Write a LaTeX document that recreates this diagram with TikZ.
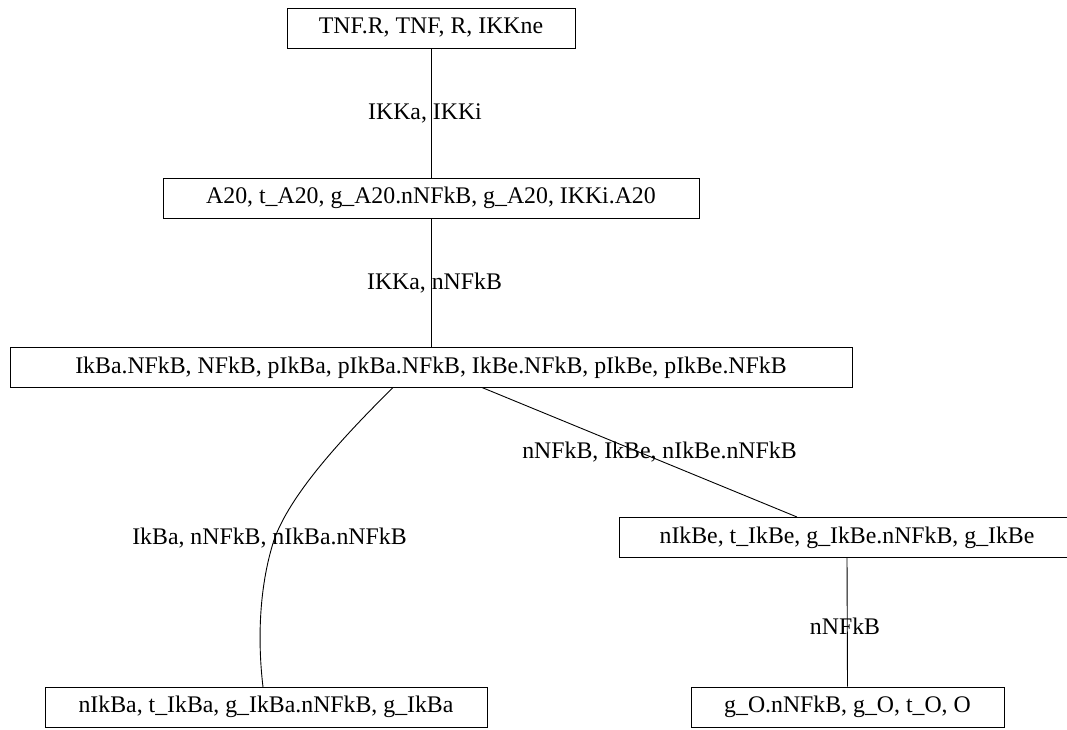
\documentclass[tikz,border=0pt]{standalone}
\usepackage{fontspec}
\setmainfont{Liberation Serif}
\begin{document}
\begin{tikzpicture}[x=1pt,y=-1pt,
  box/.style={draw=black, line width=1pt, inner sep=0pt, minimum height=40pt, font=\fontsize{23.8}{27}\selectfont},
  lbl/.style={inner sep=0pt, font=\fontsize{23.8}{27}\selectfont},
  conn/.style={draw=black, line width=0.9pt}]
\useasboundingbox (0,0) rectangle (1067,729);
\node[box, minimum width=288pt] (top) at (431,28) {TNF.R, TNF, R, IKKne};
\node[box, minimum width=536pt] (a20) at (431,198) {A20, t\_A20, g\_A20.nNFkB, g\_A20, IKKi.A20};
\node[box, minimum width=842pt] (ikba) at (431,367.5) {IkBa.NFkB, NFkB, pIkBa, pIkBa.NFkB, IkBe.NFkB, pIkBe, pIkBe.NFkB};
\node[box, minimum width=456pt] (nikbe) at (847,537.5) {nIkBe, t\_IkBe, g\_IkBe.nNFkB, g\_IkBe};
\node[box, minimum width=442pt] (nikba) at (266,707) {nIkBa, t\_IkBa, g\_IkBa.nNFkB, g\_IkBa};
\node[box, minimum width=313pt] (go) at (847.5,707) {g\_O.nNFkB, g\_O, t\_O, O};

\coordinate (s1) at (393,387.5);
\coordinate (e1) at (263,687);
\coordinate (s2) at (482,387.5);
\coordinate (e2) at (797,517);

\draw[conn] (top.south) -- (a20.north);
\draw[conn] (a20.south) -- (ikba.north);
\draw[conn] (s1) .. controls (340,440) and (290,495) .. (274,540) .. controls (258,590) and (258,645) .. (e1);
\draw[conn] (s2) -- (e2);
\draw[conn] (nikbe.south) -- (go.north);

\node[lbl] (l1) at (425,113) {IKKa, IKKi};
\node[lbl] (l2) at (434.5,283) {IKKa, nNFkB};
\node[lbl] (l3) at (269.5,538) {IkBa, nNFkB, nIkBa.nNFkB};
\node[lbl] (l4) at (659.5,452) {nNFkB, IkBe, nIkBe.nNFkB};
\node[lbl] (l5) at (845,626) {nNFkB};
\end{tikzpicture}
\end{document}
